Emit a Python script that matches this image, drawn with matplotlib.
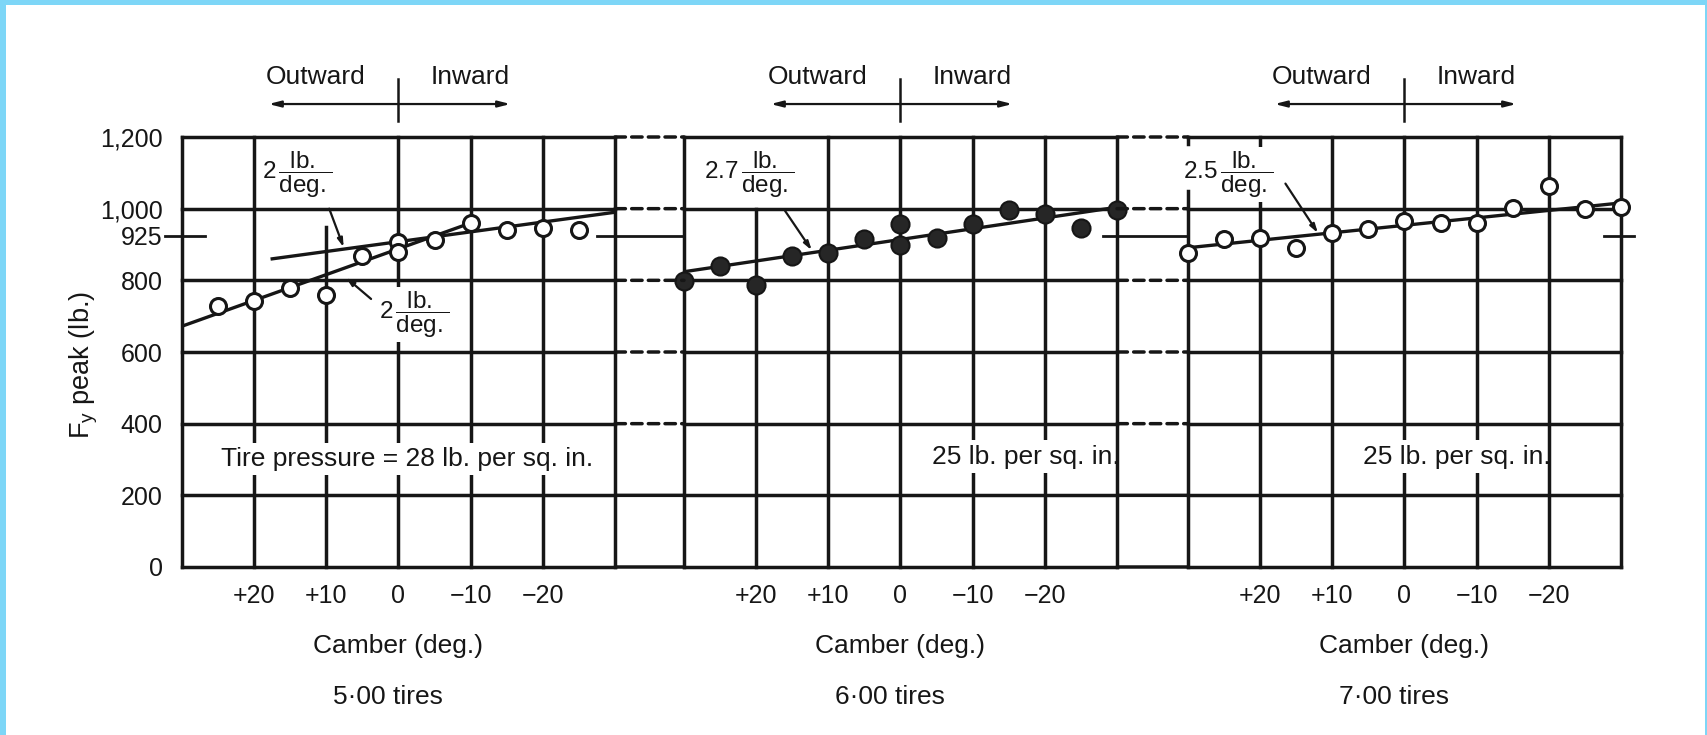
import matplotlib
matplotlib.use('Agg')
import matplotlib.pyplot as plt
from matplotlib.patches import Rectangle, ConnectionPatch
from matplotlib.transforms import blended_transform_factory

plt.rcParams['font.family'] = ['Liberation Sans', 'DejaVu Sans']
plt.rcParams['mathtext.fontset'] = 'custom'
plt.rcParams['mathtext.rm'] = 'Liberation Sans'
plt.rcParams['mathtext.it'] = 'Liberation Sans:italic'
plt.rcParams['mathtext.bf'] = 'Liberation Sans:bold'

INK = '#161616'
FRAME = '#7dd6f7'

# grid and ticks
grid_camber = [30, 20, 10, 0, -10, -20, -30]
grid_fy = [0, 200, 400, 600, 800, 1000, 1200]
tick_camber = [20, 10, 0, -10, -20]
tick_camber_labels = ['+20', '+10', '0', '\u221210', '\u221220']
fy_ticks = [0, 200, 400, 600, 800, 925, 1000, 1200]
fy_tick_labels = ['0', '200', '400', '600', '800', '925', '1,000', '1,200']
ref_fy = 925

# 5.00 tires (open circles)
camber_500 = [25, 20, 15, 10, 5, 0, 0, -5, -10, -15, -20, -25]
fy_500 = [728, 742, 780, 760, 869, 908, 880, 912, 960, 940, 945, 941]
fit_500_steep_x = [30, -10]
fit_500_steep_y = [672, 960]
fit_500_flat_x = [17.5, -30]
fit_500_flat_y = [860, 990]

# 6.00 tires (filled circles)
camber_600 = [30, 25, 20, 15, 10, 5, 0, 0, -5, -10, -15, -20, -25, -30]
fy_600 = [798, 840, 788, 868, 876, 915, 956, 900, 918, 958, 996, 984, 945, 996]
fit_600_x = [30, -30]
fit_600_y = [824, 1004]

# 7.00 tires (open circles)
camber_700 = [30, 25, 20, 15, 10, 5, 0, -5, -10, -15, -20, -25, -30]
fy_700 = [875, 914, 917, 891, 931, 942, 966, 959, 959, 1002, 1062, 999, 1006]
fit_700_x = [30, -30]
fit_700_y = [891, 1016]

tire_names = ['5\u00b700 tires', '6\u00b700 tires', '7\u00b700 tires']
pressure_texts = ['Tire pressure = 28 lb. per sq. in.', '25 lb. per sq. in.', '25 lb. per sq. in.']

fig = plt.figure(figsize=(17.08, 7.35), dpi=100)
W, H = 1708, 735

# light blue frame of the screenshot
fig.add_artist(Rectangle((0, 1 - 5 / H), 1, 5 / H, transform=fig.transFigure, color=FRAME, lw=0))
fig.add_artist(Rectangle((0, 0), 6 / W, 1, transform=fig.transFigure, color=FRAME, lw=0))
fig.add_artist(Rectangle((1 - 3 / W, 0), 3 / W, 1, transform=fig.transFigure, color=FRAME, lw=0))

lefts = [182, 684, 1188]
axes = []
for left in lefts:
    ax = fig.add_axes([left / W, (H - 567) / H, 433 / W, 430 / H])
    ax.set_xlim(30, -30)
    ax.set_ylim(0, 1200)
    for s in ax.spines.values():
        s.set_visible(False)
    ax.set_xticks(tick_camber)
    ax.set_xticklabels(tick_camber_labels, fontsize=18, color=INK)
    ax.tick_params(axis='x', length=0, pad=12)
    ax.set_yticks([])
    axes.append(ax)

ax1, ax2, ax3 = axes
ax1.set_yticks(fy_ticks)
ax1.set_yticklabels(fy_tick_labels, fontsize=18, color=INK)
ax1.tick_params(axis='y', length=0, pad=14)
ax1.set_ylabel(r'F$_\mathregular{y}$ peak (lb.)', fontsize=19.5, color=INK)
ax1.yaxis.set_label_coords(-0.19, 0.47)

# parts of grid lines that are missing in the original drawing
grid_breaks = [{10: [(0, 950)]}, {20: [(0, 1000)]}, {30: [(0, 1050), (1180, 1200)]}]
grid_on_top = [set(), set(), {-20}]

LW = 2.5
for i, ax in enumerate(axes):
    for g in grid_camber:
        segs = grid_breaks[i].get(g, [(0, 1200)])
        top = g in (30, -30) or g in grid_on_top[i]
        for y0, y1 in segs:
            ax.plot([g, g], [y0, y1], color=INK, lw=LW, zorder=4 if top else 1,
                    solid_capstyle='projecting', clip_on=False)
    for y in grid_fy:
        ax.plot([30, -30], [y, y], color=INK, lw=LW, zorder=4,
                solid_capstyle='projecting', clip_on=False)

# lines bridging the gaps between panels
for a, b in ((ax1, ax2), (ax2, ax3)):
    for y in grid_fy:
        ls = '-' if y in (0, 200) else (0, (3, 1.8))
        con = ConnectionPatch(xyA=(-30, y), coordsA=a.transData, xyB=(30, y), coordsB=b.transData,
                              color=INK, lw=LW, linestyle=ls, zorder=4)
        fig.add_artist(con)

# 925 lb reference marks
ref_spans = [(ax1, -0.039, 0.053), (ax1, 0.958, 1.205), (ax2, 0.968, 1.176), (ax3, 0.961, 1.03)]
for ax, a, b in ref_spans:
    tr = blended_transform_factory(ax.transAxes, ax.transData)
    ax.plot([a, b], [ref_fy, ref_fy], transform=tr, color=INK, lw=2.0, clip_on=False, zorder=4)

# fitted lines
ax1.plot(fit_500_steep_x, fit_500_steep_y, color=INK, lw=2.4, zorder=2)
ax1.plot(fit_500_flat_x, fit_500_flat_y, color=INK, lw=2.4, zorder=2)
ax2.plot(fit_600_x, fit_600_y, color=INK, lw=2.4, zorder=2)
ax3.plot(fit_700_x, fit_700_y, color=INK, lw=2.4, zorder=2)

# test points
ax1.plot(camber_500, fy_500, 'o', ms=11.5, mfc='white', mec=INK, mew=2.2, zorder=5, clip_on=False)
ax2.plot(camber_600, fy_600, 'o', ms=13, mfc='#262626', mec=INK, mew=1.5, zorder=5, clip_on=False)
ax3.plot(camber_700, fy_700, 'o', ms=11.5, mfc='white', mec=INK, mew=2.2, zorder=5, clip_on=False)

# slope labels with leader arrows
white = dict(facecolor='white', edgecolor='none', pad=1.5)
slope_labels = [
    (ax1, r'$2\,\dfrac{\mathrm{lb.}}{\mathrm{deg.}}$', (14, 1095), (9.6, 1000), (7.6, 892)),
    (ax1, r'$2\,\dfrac{\mathrm{lb.}}{\mathrm{deg.}}$', (-2.2, 705), (3.8, 748), (7.3, 808)),
    (ax2, r'$2.7\,\dfrac{\mathrm{lb.}}{\mathrm{deg.}}$', (21, 1095), (16, 994), (12.3, 884)),
    (ax3, r'$2.5\,\dfrac{\mathrm{lb.}}{\mathrm{deg.}}$', (24.4, 1095), (16.5, 1070), (12, 932)),
]
for ax, txt, pos, a0, a1 in slope_labels:
    ax.text(pos[0], pos[1], txt, ha='center', va='center', fontsize=17.5, color=INK,
            bbox=white, zorder=1.5)
    ax.annotate('', xy=a1, xytext=a0,
                arrowprops=dict(arrowstyle='-|>,head_length=0.5,head_width=0.15',
                                color=INK, lw=1.6, shrinkA=0, shrinkB=0), zorder=3)

# tire pressure notes
note_box = dict(facecolor='white', edgecolor='none', pad=3)
ax1.text(-1.2, 302, pressure_texts[0], ha='center', va='center', fontsize=19, color=INK,
         bbox=note_box, zorder=1.5)
ax2.text(-30.3, 308, pressure_texts[1], ha='right', va='center', fontsize=19, color=INK,
         bbox=note_box, zorder=1.5)
ax3.text(-20.2, 308, pressure_texts[2], ha='right', va='center', fontsize=19, color=INK,
         bbox=note_box, zorder=1.5)

# outward / inward arrows, axis captions
for ax, name in zip(axes, tire_names):
    ax.plot([0, 0], [1245, 1362], color=INK, lw=1.8, clip_on=False)
    for end in (18, -15.5):
        ax.annotate('', xy=(end, 1292), xytext=(0, 1292), annotation_clip=False,
                    arrowprops=dict(arrowstyle='-|>,head_length=0.7,head_width=0.18',
                                    color=INK, lw=1.6, shrinkA=0, shrinkB=0))
    ax.text(11.5, 1367, 'Outward', ha='center', va='center', fontsize=19, color=INK)
    ax.text(-10, 1367, 'Inward', ha='center', va='center', fontsize=19, color=INK)
    tr = blended_transform_factory(ax.transData, ax.transAxes)
    ax.text(0, -0.184, 'Camber (deg.)', transform=tr, ha='center', va='center', fontsize=19, color=INK)
    ax.text(1.5, -0.302, name, transform=tr, ha='center', va='center', fontsize=19, color=INK)

fig.savefig('out.png', dpi=100)
